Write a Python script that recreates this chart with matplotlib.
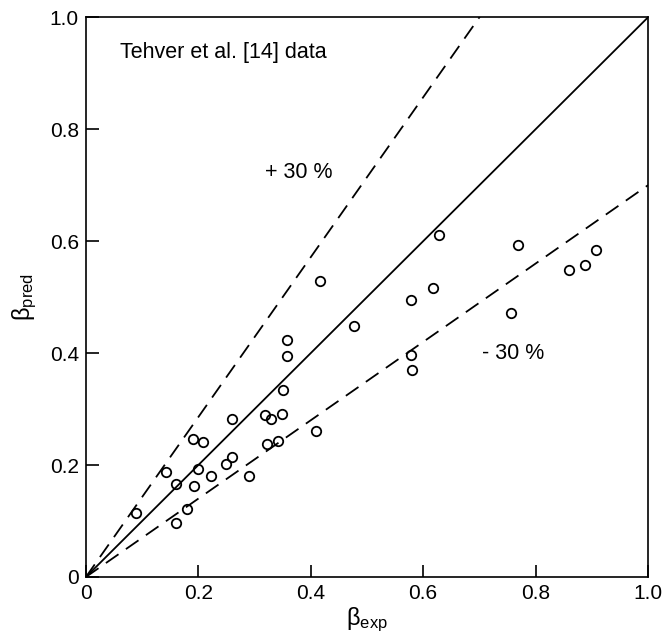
import numpy as np
from matplotlib import pyplot as plt

plt.rcParams['font.family'] = ['Liberation Sans', 'DejaVu Sans']
plt.rcParams['mathtext.default'] = 'regular'

# measured vs predicted beta, Tehver et al. data
beta_exp = [0.089, 0.142, 0.161, 0.161, 0.180, 0.191, 0.209, 0.200, 0.192, 0.222,
            0.260, 0.250, 0.260, 0.291, 0.319, 0.329, 0.349, 0.323, 0.342, 0.409,
            0.628, 0.416, 0.578, 0.617, 0.477, 0.358, 0.358, 0.351, 0.578, 0.581,
            0.769, 0.859, 0.888, 0.907, 0.757]
beta_pred = [0.114, 0.188, 0.167, 0.097, 0.121, 0.246, 0.241, 0.193, 0.163, 0.180,
             0.283, 0.202, 0.215, 0.180, 0.289, 0.283, 0.291, 0.237, 0.243, 0.261,
             0.611, 0.528, 0.495, 0.516, 0.448, 0.423, 0.395, 0.334, 0.397, 0.370,
             0.593, 0.549, 0.558, 0.585, 0.471]
ticks = [0, 0.2, 0.4, 0.6, 0.8, 1.0]
tick_labels = ["0", "0.2", "0.4", "0.6", "0.8", "1.0"]
band = 0.3

fig = plt.figure(figsize=(6.66, 6.36), dpi=100)
ax = fig.add_axes([0.129, 0.0928, 0.844, 0.880])

line_x = np.array([0.0, 1.0])
ax.plot(line_x, line_x, "k-", lw=1.3)
ax.plot(line_x, line_x / (1 - band), "k--", lw=1.3, dashes=(8.5, 5))
ax.plot(line_x, line_x * (1 - band), "k--", lw=1.3, dashes=(8.5, 5))
ax.plot(beta_exp, beta_pred, "o", mfc="none", mec="k", ms=6.8, mew=1.3)

ax.text(0.06, 0.9375, "Tehver et al. [14] data", fontsize=15.5, va="center")
ax.text(0.319, 0.723, "+ 30 %", fontsize=15.5, va="center")
ax.text(0.705, 0.40, "- 30 %", fontsize=15.5, va="center")

ax.set_xlim(0, 1)
ax.set_ylim(0, 1)
ax.set_xticks(ticks)
ax.set_xticklabels(tick_labels)
ax.set_yticks(ticks)
ax.set_yticklabels(tick_labels)
ax.tick_params(direction="in", length=9, width=1.2, labelsize=15, pad=5)
for s in ax.spines.values():
    s.set_linewidth(1.2)

ax.set_xlabel(r"$\beta_{exp}$", fontsize=17, labelpad=2)
ax.set_ylabel(r"$\beta_{pred}$", fontsize=17, labelpad=8)

fig.savefig("out.png", dpi=100)
